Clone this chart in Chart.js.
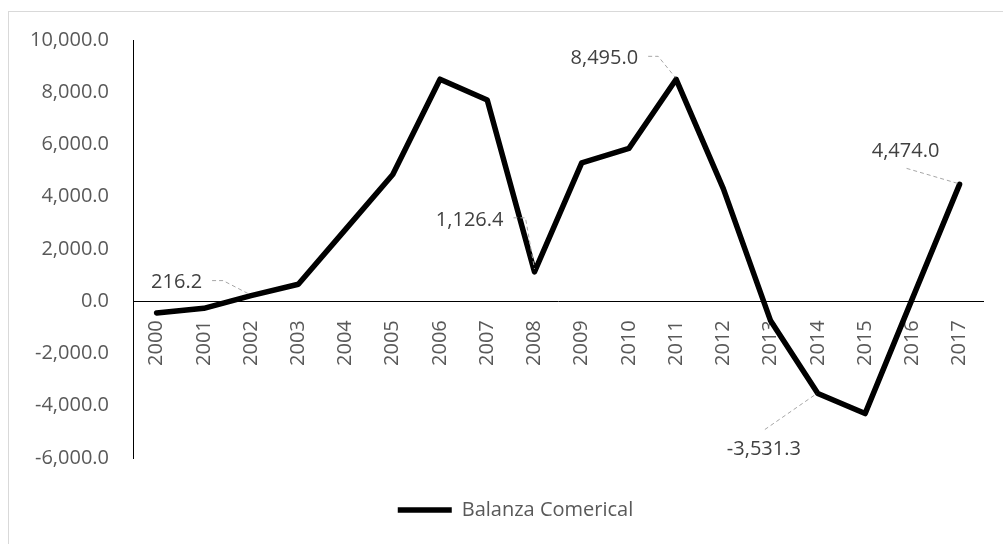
<!DOCTYPE html>
<html>
<head>
<meta charset="utf-8">
<script src="https://cdn.jsdelivr.net/npm/chart.js@4/dist/chart.umd.min.js"></script>
<style>
    body { margin: 0; background: #fff; overflow: hidden; }
    #wrap { position: relative; width: 1003px; height: 544px; }
    #frame { position: absolute; left: 8px; top: 11px; width: 1100px; height: 600px; border: 1px solid #d9d9d9; }
    canvas { position: absolute; left: 0; top: 0; }
</style>
</head>
<body>
<div id="wrap">
    <div id="frame"></div>
    <canvas id="chart" width="1003" height="544"></canvas>
</div>
<script>
const years = ['2000', '2001', '2002', '2003', '2004', '2005', '2006', '2007', '2008', '2009',
    '2010', '2011', '2012', '2013', '2014', '2015', '2016', '2017'];
const balanza = [-450, -270, 216.2, 650, 2750, 4850, 8500, 7700, 1126.4, 5300,
    5850, 8495.0, 4300, -750, -3531.3, -4300, 100, 4474.0];
const yTicks = [-6000, -4000, -2000, 0, 2000, 4000, 6000, 8000, 10000];
const labeledYears = ['2002', '2008', '2011', '2014', '2017'];

// where each data label sits relative to its point, plus the leader line path
const labelLayout = {
    '2002': { dx: -49, dy: -13, align: 'right', leader: [[-39, -15], [-28, -15], [-1, -1]] },
    '2008': { dx: -31, dy: -52, align: 'right', leader: [[-21, -54], [-9, -54], [0, -3]] },
    '2011': { dx: -38, dy: -21, align: 'right', leader: [[-28, -23], [-18, -23], [-1, -2]] },
    '2014': { dx: -54, dy: 56, align: 'center', leader: [[-53, 36], [-1, 0]] },
    '2017': { dx: -54, dy: -33, align: 'center', leader: [[-53, -16], [-2, -1]] }
};

const FONT = '"Open Sans", "Noto Sans", sans-serif';

function fmt(v) {
    return v.toLocaleString('en-US', { minimumFractionDigits: 1, maximumFractionDigits: 1 });
}

const dataLabels = {
    id: 'dataLabels',
    afterDatasetsDraw(chart) {
        const ctx = chart.ctx;
        const meta = chart.getDatasetMeta(0);
        ctx.save();
        labeledYears.forEach(year => {
            const i = years.indexOf(year);
            const pt = meta.data[i];
            const cfg = labelLayout[year];

            ctx.strokeStyle = '#a6a6a6';
            ctx.lineWidth = 1;
            ctx.setLineDash([4, 3]);
            ctx.beginPath();
            cfg.leader.forEach((p, k) => {
                if (k === 0) ctx.moveTo(pt.x + p[0], pt.y + p[1]);
                else ctx.lineTo(pt.x + p[0], pt.y + p[1]);
            });
            ctx.stroke();

            ctx.setLineDash([]);
            ctx.fillStyle = '#404040';
            ctx.font = '20px ' + FONT;
            ctx.textAlign = cfg.align;
            ctx.textBaseline = 'middle';
            ctx.fillText(fmt(balanza[i]), pt.x + cfg.dx, pt.y + cfg.dy);
        });
        ctx.restore();
    }
};

// excel puts the legend a bit right of the canvas centre
const nudgeLegend = {
    id: 'nudgeLegend',
    afterLayout(chart) {
        chart.legend.left += 22;
        chart.legend.right += 22;
    }
};

const ctx = document.getElementById('chart').getContext('2d');
const myChart = new Chart(ctx, {
    type: 'line',
    data: {
        labels: years,
        datasets: [{
            label: 'Balanza Comerical',
            data: balanza,
            borderColor: '#000',
            backgroundColor: '#000',
            borderWidth: 5.5,
            borderJoinStyle: 'round',
            borderCapStyle: 'round',
            pointRadius: 0,
            tension: 0
        }]
    },
    options: {
        responsive: false,
        animation: false,
        layout: { padding: { left: 0, top: 40, right: 16, bottom: 14 } },
        plugins: {
            tooltip: { enabled: false },
            legend: {
                position: 'bottom',
                labels: {
                    usePointStyle: true,
                    pointStyle: 'line',
                    pointStyleWidth: 54,
                    padding: 42,
                    color: '#595959',
                    font: { family: FONT, size: 20 }
                }
            }
        },
        scales: {
            x: {
                position: { y: 0 },
                offset: true,
                grid: { display: false, drawTicks: false },
                border: { display: true, color: '#000', width: 1 },
                ticks: {
                    minRotation: 90,
                    maxRotation: 90,
                    padding: 19,
                    color: '#595959',
                    font: { family: FONT, size: 20 }
                }
            },
            y: {
                min: -6000,
                max: 10000,
                afterBuildTicks(scale) {
                    scale.ticks = yTicks.map(v => ({ value: v }));
                },
                afterFit(scale) {
                    scale.width = 133;
                },
                grid: { display: false, drawTicks: false },
                border: { display: true, color: '#000', width: 1 },
                ticks: {
                    padding: 24,
                    color: '#595959',
                    font: { family: FONT, size: 20 },
                    callback: v => fmt(v)
                }
            }
        }
    },
    plugins: [dataLabels, nudgeLegend]
});
</script>
</body>
</html>
